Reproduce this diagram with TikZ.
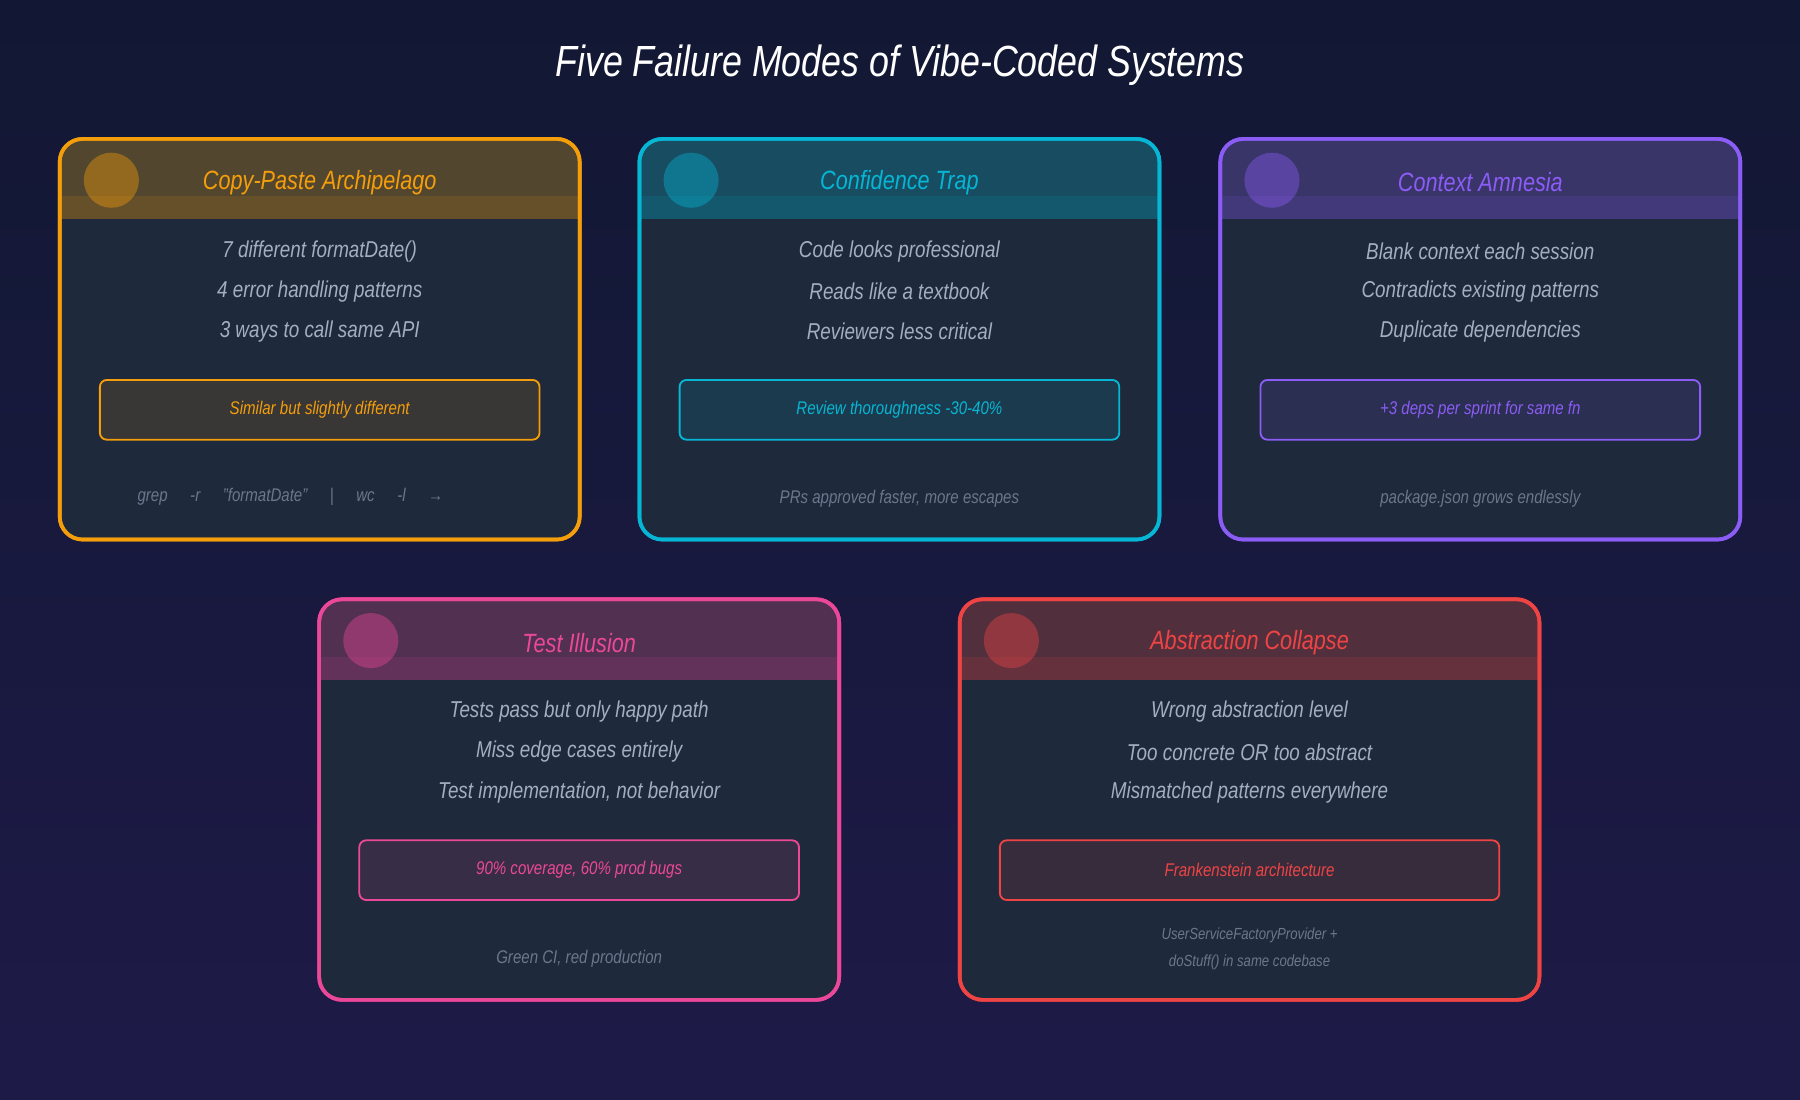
\documentclass[tikz,border=0pt]{standalone}
\usepackage{fontspec}
\setmainfont{Liberation Sans}[FakeStretch=0.82]
\usetikzlibrary{positioning}
\definecolor{bgtop}{HTML}{121833}
\definecolor{bgbot}{HTML}{1E1A48}
\definecolor{cardbg}{HTML}{1E293B}
\definecolor{bodytext}{HTML}{A3AEC2}
\definecolor{foottext}{HTML}{6B778C}
\definecolor{corange}{HTML}{F59E0B}
\definecolor{ccyan}{HTML}{06B6D4}
\definecolor{cpurple}{HTML}{8B5CF6}
\definecolor{cpink}{HTML}{EC4899}
\definecolor{cred}{HTML}{EF4444}
\tikzset{
    card/.style = {draw=#1, line width=1.6pt, fill=cardbg, rounded corners=10pt},
    cardtitle/.style = {text=#1, font=\itshape\fontsize{11.5}{13}\selectfont},
    bodyline/.style = {text=bodytext, font=\itshape\fontsize{10}{12}\selectfont},
    tagbox/.style = {draw=#1, line width=0.8pt, fill=#1!12!cardbg, rounded corners=3pt,
        text=#1, font=\itshape\fontsize{8}{10}\selectfont, minimum width=191.5pt, minimum height=26pt},
    footline/.style = {text=foottext, font=\itshape\fontsize{8}{10}\selectfont, align=center},
}
% one failure-mode card: left, top, width, name, colour, title, three lines
\newcommand\failcard[9]{%
    \begin{scope}[shift={(#1,#2)}]
        \path [card=#5] (0,0) rectangle (#3,349);
        \begin{scope}
            \clip [rounded corners=10pt] (0,0) rectangle (#3,349);
            \fill [#5, opacity=0.25] (0,0) rectangle (#3,70);
            \fill [#5, opacity=0.12] (0,50) rectangle (#3,70);
        \end{scope}
        \draw [#5, line width=1.6pt, rounded corners=10pt] (0,0) rectangle (#3,349);
        \fill [#5, opacity=0.4] (45,36) circle (24);
        \node [cardtitle=#5] (#4-title) at (#3/2,38) {#6};
        \node [bodyline] (#4-l1) at (#3/2,98) {#7};
        \node [bodyline] (#4-l2) at (#3/2,133) {#8};
        \node [bodyline] (#4-l3) at (#3/2,168) {#9};
    \end{scope}
}
\newcommand\cardtag[6]{%
    \node [tagbox=#3, minimum width=#4] (#1-tag) at (#2) {#5};
    \node [footline, below=18pt of #1-tag] (#1-foot) {#6};
}
\begin{document}
\begin{tikzpicture}[x=0.5pt, y=-0.5pt]
\useasboundingbox (0,0) rectangle (1568,958);
\shade [top color=bgtop, bottom color=bgbot] (0,0) rectangle (1568,958);
\node [text=white, font=\itshape\fontsize{19}{22}\selectfont] (title) at (784,57) {Five Failure Modes of Vibe-Coded Systems};

\failcard{52}{121}{453}{copy}{corange}{Copy-Paste Archipelago}{7 different formatDate()}{4 error handling patterns}{3 ways to call same API}
\cardtag{copy}{278.5,357}{corange}{191.5pt}{Similar but slightly different}{}
\node [footline] (copy-cmd) at (253,433) {grep\quad\ -r\quad\ "formatDate"\quad\ |\quad\ wc\quad\ -l\quad\ →};

\failcard{557}{121}{453}{trap}{ccyan}{Confidence Trap}{Code looks professional}{Reads like a textbook}{Reviewers less critical}
\cardtag{trap}{783.5,357}{ccyan}{191.5pt}{Review thoroughness -30-40\%}{PRs approved faster, more escapes}

\failcard{1063}{121}{453}{amnesia}{cpurple}{Context Amnesia}{Blank context each session}{Contradicts existing patterns}{Duplicate dependencies}
\cardtag{amnesia}{1289.5,357}{cpurple}{191.5pt}{+3 deps per sprint for same fn}{package.json grows endlessly}

\failcard{278}{522}{453}{test}{cpink}{Test Illusion}{Tests pass but only happy path}{Miss edge cases entirely}{Test implementation, not behavior}
\cardtag{test}{504.5,758}{cpink}{191.5pt}{90\% coverage, 60\% prod bugs}{Green CI, red production}

\failcard{836}{522}{505}{collapse}{cred}{Abstraction Collapse}{Wrong abstraction level}{Too concrete OR too abstract}{Mismatched patterns everywhere}
\node [tagbox=cred, minimum width=217.5pt] (collapse-tag) at (1088.5,758) {Frankenstein architecture};
\node [footline, font=\itshape\fontsize{7}{12}\selectfont, below=8pt of collapse-tag] (collapse-foot) {UserServiceFactoryProvider +\\doStuff() in same codebase};
\end{tikzpicture}
\end{document}
